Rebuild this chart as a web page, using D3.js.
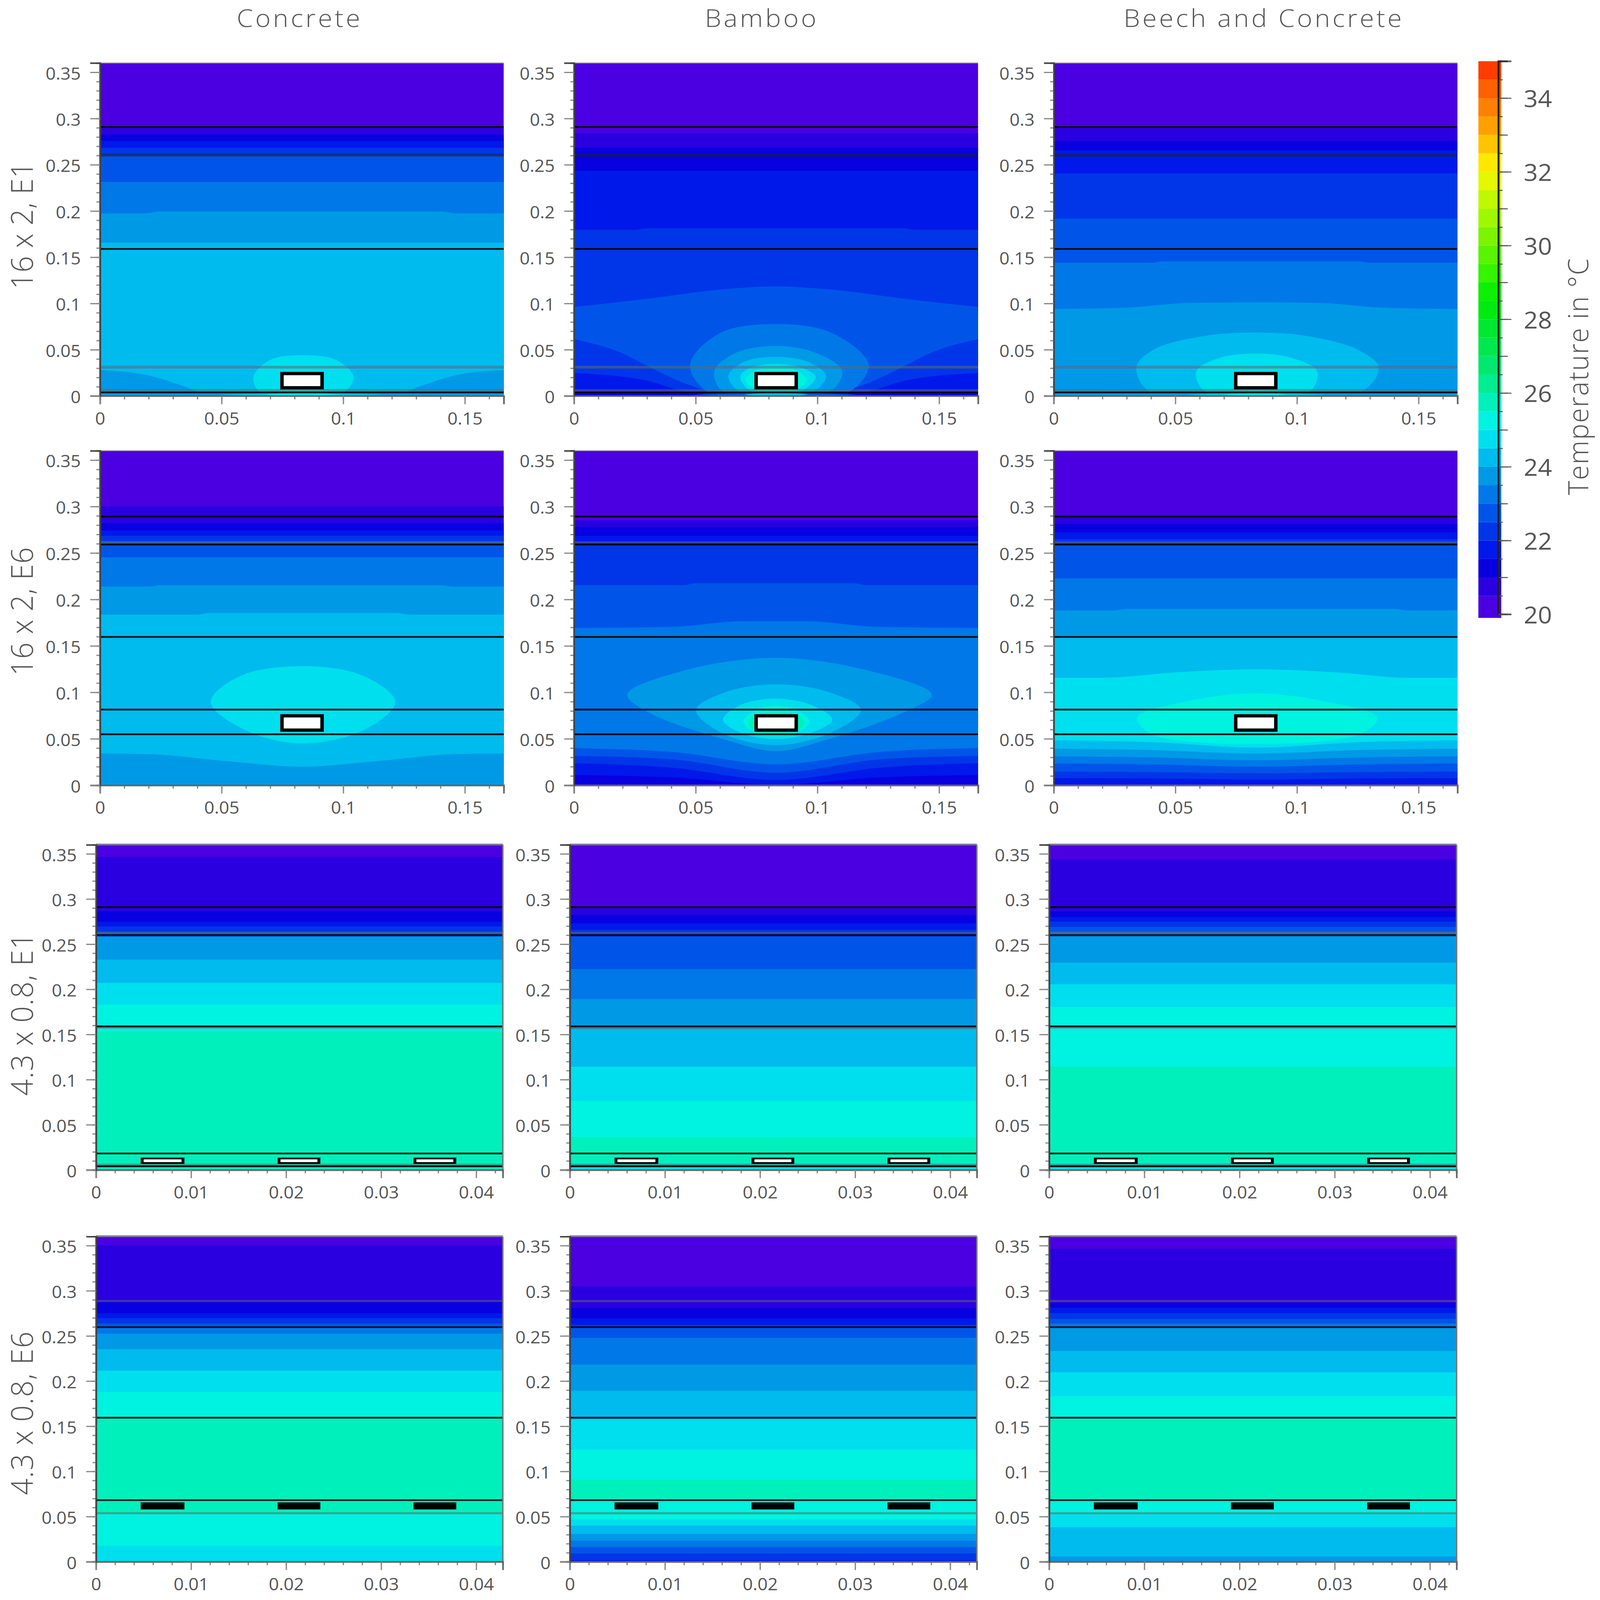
<!DOCTYPE html>
<html>
<head>
<meta charset="utf-8">
<title>Temperature fields</title>
<script src="https://cdnjs.cloudflare.com/ajax/libs/d3/7.8.5/d3.min.js"></script>
<style>
  html, body { margin: 0; padding: 0; background: #fff; overflow: hidden; }
  text { font-family: "Open Sans", "Liberation Sans", sans-serif; fill: #555; }
</style>
</head>
<body>
<div id="chart"></div>
<script>
// labels
const columnNames = ["Concrete", "Bamboo", "Beech and Concrete"];
const rowNames = ["16 x 2, E1", "16 x 2, E6", "4.3 x 0.8, E1", "4.3 x 0.8, E6"];
const legendTitle = "Temperature in °C";

// colour bands, 0.5 degree each
const tempLevels = d3.range(20.5, 35, 0.5);
const tempColors = ["#4a00e0", "#2a00e0", "#0800e0", "#0018ea", "#0036e8", "#0055e8", "#0078e8", "#0099e6",
  "#00bbee", "#00dfee", "#00f2e0", "#00f0bc", "#00ee90", "#00e870", "#00e850", "#00e830", "#00ea10", "#0cf000",
  "#34f400", "#58f400", "#7cf400", "#a0f800", "#c0f800", "#e4f800", "#ffe800", "#ffc400", "#ffa000", "#ff8000",
  "#ff6000", "#ff3c00"];

// ticks
const xTicksWide = [0, 0.05, 0.1, 0.15];
const xTicksNarrow = [0, 0.01, 0.02, 0.03, 0.04];
const yTicks = [0, 0.05, 0.1, 0.15, 0.2, 0.25, 0.3, 0.35];
const legendTicks = [20, 22, 24, 26, 28, 30, 32, 34];

// layer interfaces, in metres (dark lines, then grey lines)
const solidLines = [
  [0.2909, 0.159, 0.0038],
  [0.2892, 0.2591, 0.1597, 0.0815, 0.0549],
  [0.291, 0.26, 0.159, 0.0182, 0.004],
  [0.2597, 0.1595, 0.0682]
];
const greyLines = [
  [0.2604, 0.0311, 0.0059],
  [0.2615],
  [0.0058, 0.2625, 0.1575],
  [0.2887, 0.0537]
];

// heat sources [x0, x1] and their [y0, y1] per row
const wideSources = [[0.0741, 0.092]];
const narrowSources = [[0.0047, 0.0093], [0.0191, 0.0236], [0.0334, 0.0379]];
const sourceHeights = [[0.0071, 0.026], [0.0576, 0.0765], [0.0067, 0.0136], [0.0579, 0.0657]];

// temperature layers, painted in order from the top.
// [t, y] flat band down to the floor, [t, points] curved band, [t, points, "loop"] closed contour
const concreteE1 = [
  [20.75, 0.2909], [21.25, 0.2826], [21.75, 0.2758], [22.25, 0.2684], [22.75, 0.2604], [23.25, 0.2314],
  [23.75, [[0, 0.1974], [0.018, 0.1974], [0.025, 0.1995], [0.14, 0.1995], [0.147, 0.1974], [0.166, 0.1974]]],
  [24.25, 0.1657],
  [23.75, [[0, 0.0281], [0.02, 0.0222], [0.035, 0.01], [0.042, 0.004], [0.124, 0.004], [0.131, 0.01], [0.146, 0.0222], [0.166, 0.0281]]],
  [24.75, [[0.083, 0.0441], [0.097, 0.039], [0.1042, 0.0207], [0.1, 0.004], [0.066, 0.004], [0.0631, 0.0207], [0.07, 0.039]], "loop"],
  [23.75, 0.0035],
  [24.25, [[0.05, 0.0015], [0.083, 0.0032], [0.116, 0.0015], [0.083, 0]], "loop"],
  [24.75, [[0.068, 0.0015], [0.083, 0.0034], [0.098, 0.0015], [0.083, 0]], "loop"]
];
const bambooE1 = [
  [20.75, 0.2841], [21.25, 0.2684], [21.75, 0.2435],
  [22.25, [[0, 0.1796], [0.025, 0.1796], [0.03, 0.1814], [0.135, 0.1814], [0.14, 0.1796], [0.166, 0.1796]]],
  [22.75, [[0, 0.0962], [0.03, 0.105], [0.06, 0.115], [0.083, 0.1184], [0.106, 0.115], [0.136, 0.105], [0.166, 0.0962]]],
  [22.25, [[0, 0.0615], [0.02, 0.046], [0.0312, 0.031], [0.0473, 0.012], [0.0572, 0.005], [0.1088, 0.005], [0.1187, 0.012], [0.1348, 0.031], [0.146, 0.046], [0.166, 0.0615]]],
  [21.75, [[0, 0.025], [0.03, 0.0165], [0.0436, 0.006], [0.05, 0.003], [0.116, 0.003], [0.1224, 0.006], [0.136, 0.0165], [0.166, 0.025]]],
  [23.25, [[0.083, 0.0778], [0.106, 0.068], [0.121, 0.034], [0.112, 0.003], [0.056, 0.003], [0.0477, 0.034], [0.06, 0.068]], "loop"],
  [23.75, [[0.083, 0.0541], [0.1, 0.046], [0.1102, 0.0266], [0.104, 0.003], [0.062, 0.003], [0.0576, 0.0266], [0.066, 0.046]], "loop"],
  [24.25, [[0.083, 0.0423], [0.096, 0.037], [0.1036, 0.0217], [0.097, 0.003], [0.069, 0.003], [0.0634, 0.0217], [0.07, 0.037]], "loop"],
  [24.75, [[0.083, 0.0346], [0.094, 0.03], [0.0993, 0.0207], [0.093, 0.005], [0.073, 0.005], [0.0683, 0.0207], [0.072, 0.03]], "loop"],
  [25.25, [[0.083, 0.0323], [0.092, 0.027], [0.0955, 0.0165], [0.09, 0.006], [0.076, 0.006], [0.0705, 0.0165], [0.074, 0.027]], "loop"],
  [21.25, 0.0035],
  [22.75, [[0.05, 0.0015], [0.083, 0.0034], [0.116, 0.0015], [0.083, 0]], "loop"],
  [24.25, [[0.07, 0.0015], [0.083, 0.0036], [0.096, 0.0015], [0.083, 0]], "loop"]
];
const beechE1 = [
  [20.75, 0.2909], [21.25, 0.2758], [21.75, 0.2654], [22.25, 0.2406], [22.75, 0.1917],
  [23.25, [[0, 0.1441], [0.04, 0.1441], [0.045, 0.1456], [0.125, 0.1456], [0.13, 0.1441], [0.166, 0.1441]]],
  [23.75, [[0, 0.0941], [0.03, 0.0955], [0.055, 0.1005], [0.083, 0.1012], [0.11, 0.1005], [0.135, 0.0955], [0.166, 0.0941]]],
  [24.25, [[0.083, 0.0686], [0.105, 0.0645], [0.125, 0.05], [0.1336, 0.0311], [0.126, 0.004], [0.04, 0.004], [0.034, 0.0311], [0.041, 0.05], [0.061, 0.0645]], "loop"],
  [24.75, [[0.083, 0.0459], [0.098, 0.041], [0.1083, 0.0266], [0.1048, 0.004], [0.0627, 0.004], [0.0586, 0.0266], [0.068, 0.041]], "loop"],
  [23.75, 0.0035],
  [24.25, [[0.055, 0.0015], [0.083, 0.0034], [0.111, 0.0015], [0.083, 0]], "loop"],
  [24.75, [[0.07, 0.0015], [0.083, 0.0036], [0.096, 0.0015], [0.083, 0]], "loop"]
];
const concreteE6 = [
  [20.75, 0.3003], [21.25, 0.2822], [21.75, 0.2744], [22.25, 0.2686], [22.75, 0.263], [23.25, 0.2455],
  [23.75, [[0, 0.2139], [0.02, 0.2139], [0.025, 0.2154], [0.14, 0.2154], [0.145, 0.2139], [0.166, 0.2139]]],
  [24.25, [[0, 0.1838], [0.04, 0.1838], [0.045, 0.1854], [0.122, 0.1854], [0.127, 0.1838], [0.166, 0.1838]]],
  [24.75, [[0.083, 0.1282], [0.108, 0.118], [0.1214, 0.0898], [0.1086, 0.0596], [0.083, 0.045], [0.0596, 0.0596], [0.0455, 0.0898], [0.058, 0.118]], "loop"],
  [23.75, [[0, 0.0342], [0.02, 0.0335], [0.05, 0.0265], [0.083, 0.02], [0.116, 0.0265], [0.146, 0.0335], [0.166, 0.0342]]]
];
const bambooE6 = [
  [20.75, 0.2853], [21.25, 0.2781], [21.75, 0.2685], [22.25, 0.2601],
  [22.75, [[0, 0.2154], [0.045, 0.2154], [0.05, 0.2175], [0.115, 0.2175], [0.12, 0.2154], [0.166, 0.2154]]],
  [23.25, [[0, 0.1693], [0.04, 0.1705], [0.07, 0.1766], [0.095, 0.1766], [0.125, 0.1705], [0.166, 0.1693]]],
  [23.75, [[0.083, 0.1372], [0.12, 0.124], [0.147, 0.0976], [0.135, 0.078], [0.105, 0.05], [0.083, 0.0368], [0.061, 0.05], [0.031, 0.078], [0.0219, 0.0976], [0.046, 0.124]], "loop"],
  [24.25, [[0.083, 0.1087], [0.105, 0.1], [0.1179, 0.081], [0.105, 0.056], [0.083, 0.0432], [0.061, 0.056], [0.0501, 0.081], [0.062, 0.1]], "loop"],
  [24.75, [[0.083, 0.0932], [0.098, 0.086], [0.1061, 0.0704], [0.097, 0.056], [0.083, 0.0497], [0.069, 0.056], [0.0612, 0.0704], [0.068, 0.086]], "loop"],
  [25.25, [[0.083, 0.086], [0.092, 0.08], [0.0968, 0.0685], [0.092, 0.057], [0.083, 0.0536], [0.074, 0.057], [0.0696, 0.0685], [0.074, 0.08]], "loop"],
  [25.75, [[0.083, 0.078], [0.092, 0.075], [0.0945, 0.0675], [0.092, 0.059], [0.083, 0.056], [0.074, 0.059], [0.0715, 0.0675], [0.074, 0.075]], "loop"],
  [22.75, [[0, 0.0399], [0.04, 0.036], [0.083, 0.0225], [0.126, 0.036], [0.166, 0.0399]]],
  [22.25, [[0, 0.0316], [0.04, 0.028], [0.083, 0.0135], [0.126, 0.028], [0.166, 0.0316]]],
  [21.75, [[0, 0.0238], [0.04, 0.019], [0.083, 0.0057], [0.126, 0.019], [0.166, 0.0238]]],
  [21.25, [[0, 0.0109], [0.04, 0.0085], [0.083, 0.0005], [0.126, 0.0085], [0.166, 0.0109]]]
];
const beechE6 = [
  [20.75, 0.2892], [21.25, 0.2814], [21.75, 0.2723], [22.25, 0.265], [22.75, 0.2585], [23.25, 0.2227],
  [23.75, [[0, 0.1883], [0.025, 0.1883], [0.03, 0.1898], [0.14, 0.1898], [0.145, 0.1883], [0.166, 0.1883]]],
  [24.25, 0.1585],
  [24.75, [[0, 0.1157], [0.02, 0.1157], [0.05, 0.1215], [0.083, 0.1248], [0.116, 0.1215], [0.146, 0.1157], [0.166, 0.1157]]],
  [25.25, [[0.083, 0.0989], [0.112, 0.09], [0.1332, 0.073], [0.125, 0.054], [0.041, 0.054], [0.0342, 0.073], [0.054, 0.09]], "loop"],
  [24.25, [[0, 0.0484], [0.04, 0.0465], [0.083, 0.0406], [0.126, 0.0465], [0.166, 0.0484]]],
  [23.75, [[0, 0.0394], [0.04, 0.038], [0.083, 0.0342], [0.126, 0.038], [0.166, 0.0394]]],
  [23.25, [[0, 0.0311], [0.04, 0.03], [0.083, 0.0269], [0.126, 0.03], [0.166, 0.0311]]],
  [22.75, [[0, 0.0233], [0.04, 0.0225], [0.083, 0.02], [0.126, 0.0225], [0.166, 0.0233]]],
  [22.25, [[0, 0.0148], [0.04, 0.0142], [0.083, 0.0129], [0.126, 0.0142], [0.166, 0.0148]]],
  [21.75, [[0, 0.0078], [0.04, 0.0074], [0.083, 0.0062], [0.126, 0.0074], [0.166, 0.0078]]]
];
const concreteThinE1 = [
  [20.75, 0.3465], [21.25, 0.2864], [21.75, 0.275], [22.25, 0.2696], [22.75, 0.2638], [23.75, 0.2584],
  [24.25, 0.233], [24.75, 0.2071], [25.25, 0.1831], [25.75, 0.1532]
];
const bambooThinE1 = [
  [20.75, 0.2905], [21.25, 0.2824], [21.75, 0.2731], [22.25, 0.2659], [22.75, 0.2584], [23.25, 0.2224],
  [23.75, 0.1893], [24.25, 0.1559], [24.75, 0.1143], [25.25, 0.0766], [25.75, 0.0363], [24.75, 0.0035]
];
const beechThinE1 = [
  [20.75, 0.3438], [21.25, 0.2864], [21.75, 0.2803], [22.25, 0.275], [22.75, 0.2691], [23.25, 0.2638],
  [23.75, 0.2584], [24.25, 0.2296], [24.75, 0.2056], [25.25, 0.1805], [25.75, 0.1143], [24.75, 0.0035]
];
const concreteThinE6 = [
  [20.75, 0.3505], [21.25, 0.2887], [21.75, 0.275], [22.25, 0.2697], [22.75, 0.2637], [23.25, 0.2597],
  [23.75, 0.2526], [24.25, 0.2353], [24.75, 0.2116], [25.25, 0.1879], [25.75, 0.1595], [25.25, 0.0537], [24.75, 0.0176]
];
const bambooThinE6 = [
  [20.75, 0.305], [21.25, 0.2808], [21.75, 0.2697], [22.25, 0.2624], [22.75, 0.2597], [23.25, 0.2479],
  [23.75, 0.2182], [24.25, 0.1892], [24.75, 0.1576], [25.25, 0.1242], [25.75, 0.0908], [25.25, 0.0682],
  [24.75, 0.0471], [24.25, 0.04], [23.75, 0.0308], [23.25, 0.0234], [22.75, 0.0163], [22.25, 0.0092], [21.75, 0.0018]
];
const beechThinE6 = [
  [20.75, 0.3466], [21.25, 0.2866], [21.75, 0.2813], [22.25, 0.2753], [22.75, 0.2689], [23.25, 0.2637],
  [23.75, 0.2597], [24.25, 0.2334], [24.75, 0.2097], [25.25, 0.1834], [25.75, 0.1576], [25.25, 0.0682],
  [24.75, 0.0537], [24.25, 0.0382], [23.75, 0.0058]
];
const panelLayers = [
  [concreteE1, bambooE1, beechE1],
  [concreteE6, bambooE6, beechE6],
  [concreteThinE1, bambooThinE1, beechThinE1],
  [concreteThinE6, bambooThinE6, beechThinE6]
];

// page layout
const width = 4407, height = 4655;
const rowBox = [[183.4, 1152], [1311.6, 2284.6], [2458, 3403.7], [3597.7, 4543.7]];
const colBoxWide = [[275.5, 1387.6], [1581, 2694], [2902.5, 4014.5]];
const colBoxNarrow = [[264.5, 1385], [1569.6, 2690.6], [2889.7, 4012]];

// the whole drawing is fitted to the window
const svg = d3.select("#chart").append("svg")
  .attr("viewBox", `0 0 ${width} ${height}`)
  .attr("preserveAspectRatio", "none")
  .style("display", "block").style("width", "100vw").style("height", "100vh");
svg.append("rect").attr("width", width).attr("height", height).attr("fill", "#fff");

const tempColor = d3.scaleThreshold().domain(tempLevels).range(tempColors);
const fmt = d => String(d);

function drawPanel(r, c) {
  const wide = r < 2;
  const colBox = (wide ? colBoxWide : colBoxNarrow)[c];
  const xMax = wide ? 0.166 : 0.0428;
  const xK = wide ? 1 : xMax / 0.166;  // layers only use x in the wide panels
  const x = d3.scaleLinear().domain([0, xMax]).range(colBox);
  const y = d3.scaleLinear().domain([0, 0.36]).range([rowBox[r][1], rowBox[r][0]]);
  const g = svg.append("g");
  const clipId = "clip" + r + c;
  g.append("clipPath").attr("id", clipId).append("rect")
    .attr("x", x(0)).attr("y", y(0.36)).attr("width", x(xMax) - x(0)).attr("height", y(0) - y(0.36));

  const field = g.append("g").attr("clip-path", `url(#${clipId})`);
  field.append("rect")
    .attr("x", x(0)).attr("y", y(0.36)).attr("width", x(xMax) - x(0)).attr("height", y(0) - y(0.36))
    .attr("fill", tempColor(20.25));

  const below = d3.area().x(p => x(p[0] * xK)).y0(y(0)).y1(p => y(p[1])).curve(d3.curveMonotoneX);
  const loop = d3.line().x(p => x(p[0] * xK)).y(p => y(p[1])).curve(d3.curveCatmullRomClosed);
  panelLayers[r][c].forEach(layer => {
    const [t, shape, kind] = layer;
    const pts = Array.isArray(shape) ? shape : [[0, shape], [0.166, shape]];
    field.append("path")
      .attr("d", kind === "loop" ? loop(pts) : below(pts))
      .attr("fill", tempColor(t));
  });

  // material interfaces
  greyLines[r].forEach(v => {
    field.append("line").attr("x1", x(0)).attr("x2", x(xMax)).attr("y1", y(v)).attr("y2", y(v))
      .attr("stroke", v > 0.2 && r === 0 ? "#222" : "#666").attr("stroke-opacity", 0.55).attr("stroke-width", r === 0 ? 8 : 6);
  });
  solidLines[r].forEach(v => {
    field.append("line").attr("x1", x(0)).attr("x2", x(xMax)).attr("y1", y(v)).attr("y2", y(v))
      .attr("stroke", "#000").attr("stroke-opacity", 0.9).attr("stroke-width", 5);
  });

  // heat sources
  (wide ? wideSources : narrowSources).forEach(s => {
    const [y0, y1] = sourceHeights[r];
    g.append("rect").attr("x", x(s[0])).attr("y", y(y1))
      .attr("width", x(s[1]) - x(s[0])).attr("height", y(y0) - y(y1)).attr("fill", "#000");
    if (r < 3) {
      const inX = r < 2 ? 9.5 : 8, inY = r < 2 ? 9.5 : 5;
      g.append("rect").attr("x", x(s[0]) + inX).attr("y", y(y1) + inY)
        .attr("width", x(s[1]) - x(s[0]) - 2 * inX).attr("height", y(y0) - y(y1) - 2 * inY).attr("fill", "#fff");
    }
  });

  // frame
  g.append("line").attr("x1", x(0)).attr("x2", x(xMax)).attr("y1", y(0.36) - 1).attr("y2", y(0.36) - 1)
    .attr("stroke", wide ? "#bbb" : "#7a7a9a").attr("stroke-width", wide ? 3 : 5);
  if (!wide) {
    g.append("line").attr("x1", x(xMax)).attr("x2", x(xMax)).attr("y1", y(0.36)).attr("y2", y(0))
      .attr("stroke", "#777").attr("stroke-width", 4);
  }

  // axes
  const xStep = wide ? 0.01 : 0.002;
  const xMinor = d3.axisBottom(x).tickValues(d3.range(0, xMax, xStep)).tickSize(10).tickFormat("");
  const yMinor = d3.axisLeft(y).tickValues(d3.range(0, 0.36, 0.01)).tickSize(10).tickFormat("");
  const xAxis = d3.axisBottom(x).tickValues(wide ? xTicksWide : xTicksNarrow).tickSize(24).tickPadding(24).tickFormat(fmt);
  const yAxis = d3.axisLeft(y).tickValues(yTicks).tickSize(27).tickPadding(26).tickFormat(fmt);
  [xMinor, xAxis].forEach(a => {
    g.append("g").attr("transform", `translate(0,${y(0)})`).call(a).call(styleAxis, "#666");
  });
  [yMinor, yAxis].forEach(a => {
    g.append("g").attr("transform", `translate(${x(0)},0)`).call(a).call(styleAxis, "#444");
  });
  g.selectAll(".tick text").attr("font-size", 49).attr("dy", function() {
    return d3.select(this).attr("dy") === "0.32em" ? "0.42em" : "0.71em";
  });
}

function styleAxis(sel, lineColor) {
  sel.select(".domain").attr("stroke", lineColor).attr("stroke-width", 4.5);
  sel.selectAll(".tick line").attr("stroke", "#888").attr("stroke-width", 3.5);
}

d3.range(4).forEach(r => d3.range(3).forEach(c => drawPanel(r, c)));

// column and row headings
const colCenter = [822, 2095, 3478], colLength = [340, 307, 766];
columnNames.forEach((name, i) => {
  svg.append("text").text(name).attr("x", colCenter[i]).attr("y", 78).attr("text-anchor", "middle")
    .attr("font-size", 72).attr("font-weight", 300)
    .attr("textLength", colLength[i]).attr("lengthAdjust", "spacing");
});
const rowCenter = [656, 1779, 2951, 4112], rowLength = [371, 374, 474, 476];
rowNames.forEach((name, i) => {
  svg.append("text").text(name).attr("text-anchor", "middle")
    .attr("transform", `translate(90,${rowCenter[i]}) rotate(-90)`)
    .attr("font-size", 84).attr("font-weight", 300)
    .attr("textLength", rowLength[i]).attr("lengthAdjust", "spacing");
});

// colour bar
const legendY = d3.scaleLinear().domain([20, 35]).range([1787, 178]);
const legendEdges = [19.9].concat(tempLevels);
svg.append("g").selectAll("rect").data(tempColors).join("rect")
  .attr("x", 4072).attr("width", 63)
  .attr("y", (d, i) => legendY(i === 29 ? 35 : legendEdges[i + 1]))
  .attr("height", (d, i) => legendY(legendEdges[i]) - legendY(i === 29 ? 35 : legendEdges[i + 1]))
  .attr("fill", d => d);
const legendAxis = svg.append("g").attr("transform", "translate(4127,0)");
legendAxis.append("g").call(d3.axisRight(legendY).tickValues(d3.range(20, 35.01, 0.5)).tickSize(12).tickFormat(""));
legendAxis.append("g").call(d3.axisRight(legendY).tickValues(d3.range(20, 35.01, 1)).tickSize(26).tickFormat(""));
legendAxis.append("g").call(d3.axisRight(legendY).tickValues(legendTicks).tickSize(36).tickPadding(34).tickFormat(fmt));
legendAxis.selectAll(".domain").attr("stroke", "#222").attr("stroke-opacity", 0.7).attr("stroke-width", 5);
legendAxis.selectAll(".tick line").attr("stroke", "#555").attr("stroke-width", 3);
legendAxis.selectAll(".tick text").attr("font-size", 68).attr("fill", "#444").attr("dy", "0.38em");
svg.append("text").text(legendTitle).attr("text-anchor", "middle")
  .attr("transform", "translate(4375,1096) rotate(-90)")
  .attr("font-size", 78).attr("font-weight", 300)
  .attr("textLength", 688).attr("lengthAdjust", "spacing");
</script>
</body>
</html>
